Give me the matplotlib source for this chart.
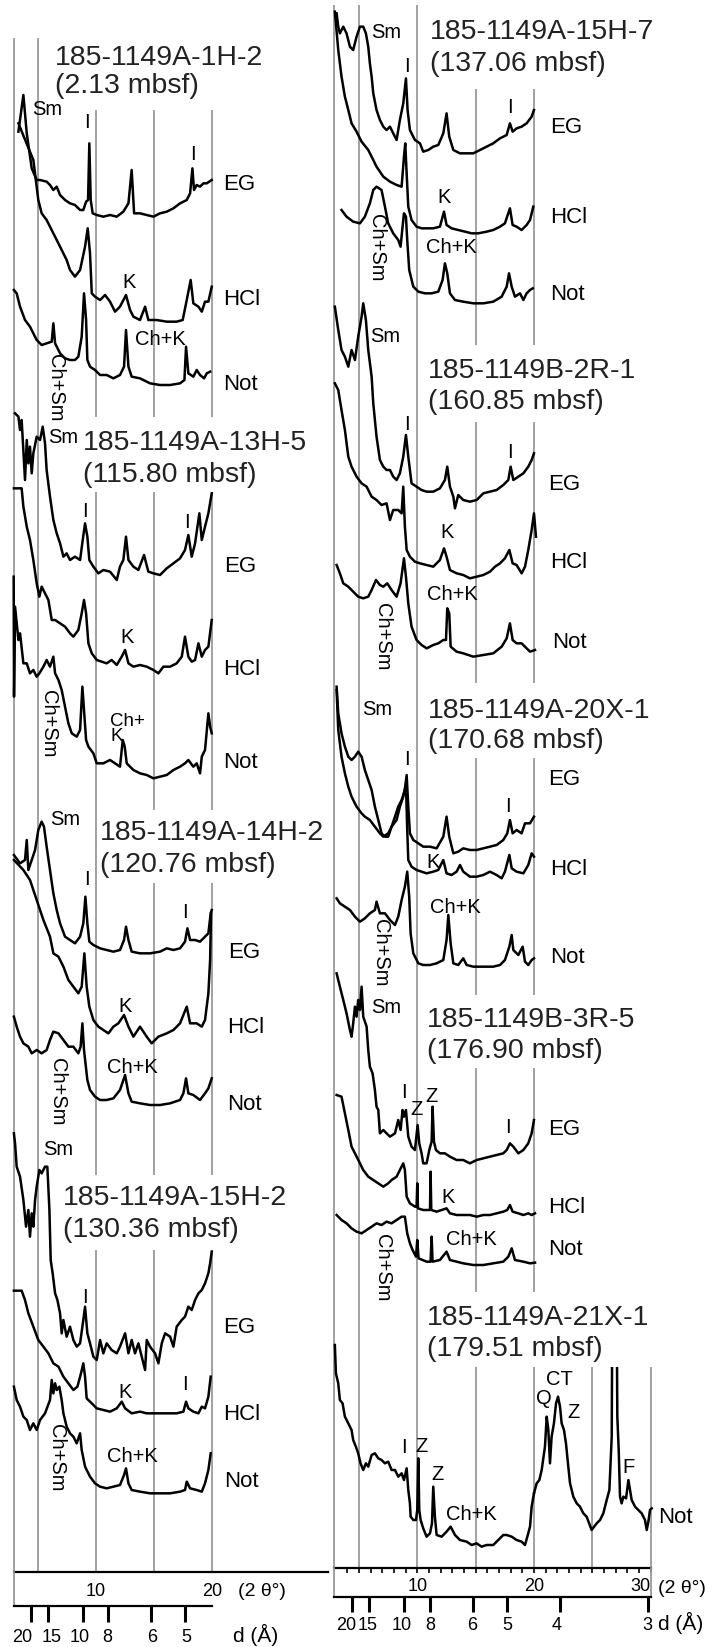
import numpy as np
import matplotlib
matplotlib.use("Agg")
import matplotlib.pyplot as plt
from matplotlib.patches import Rectangle

plt.rcParams['font.family'] = ['Liberation Sans', 'DejaVu Sans']

W, H = 716, 1647

# XRD traces: (2-theta in degrees, intensity in arbitrary counts)
# left column
a1h2_eg = [(3.29,255),(3.72,365),(4.01,250),(4.44,145),(4.87,110),(5.16,110),(5.73,105),(6.02,95),(6.31,80),(6.60,90),(6.89,65),(7.32,50),(7.75,40),(8.18,35),(8.62,20),(8.90,20),(9.14,45),(9.31,50),(9.42,220),(9.54,50),(9.71,10),(10.06,5),(10.63,0),(11.21,5),(11.79,0),(12.36,15),(12.80,40),(13.08,140),(13.29,10),(13.80,10),(14.38,5),(14.96,0),(15.53,10),(16.11,15),(16.69,25),(17.26,40),(17.84,50),(18.13,70),(18.33,145),(18.47,80),(18.70,95),(18.99,90),(19.28,100),(19.57,100),(20.0,110)]
a1h2_hcl = [(3.29,595),(4.58,485),(5.01,365),(5.30,325),(5.73,305),(6.31,265),(6.89,225),(7.46,185),(7.75,155),(8.18,135),(8.62,155),(9.05,225),(9.28,280),(9.48,205),(9.63,85),(9.91,75),(10.35,65),(10.78,80),(11.21,60),(11.64,30),(12.07,45),(12.59,80),(12.94,35),(13.23,15),(13.80,5),(14.24,45),(14.52,5),(15.24,5),(16.11,0),(16.97,0),(17.49,5),(17.84,65),(18.18,125),(18.41,55),(18.85,45),(19.14,30),(19.42,60),(19.71,60),(20.0,105)]
a1h2_not = [(2.9,285),(3.14,275),(3.43,235),(3.86,195),(4.29,175),(4.58,155),(4.87,135),(5.30,120),(5.73,125),(6.17,130),(6.31,185),(6.46,125),(6.89,95),(7.32,80),(7.75,75),(8.18,75),(8.47,85),(8.76,145),(8.96,275),(9.14,195),(9.25,75),(9.48,55),(9.91,45),(10.35,30),(10.92,30),(11.50,20),(12.07,30),(12.42,55),(12.59,165),(12.80,55),(13.08,25),(13.80,20),(14.67,5),(15.53,0),(16.40,0),(17.26,5),(17.64,15),(17.78,115),(17.98,35),(18.41,25),(18.70,45),(18.99,30),(19.34,20),(19.57,35),(19.86,40)]

a13h5_eg = [(3.0,500),(3.29,490),(3.43,450),(3.57,480),(3.86,300),(4.01,420),(4.15,350),(4.29,400),(4.44,320),(4.58,380),(4.87,430),(5.16,420),(5.39,460),(5.59,410),(5.73,330),(6.02,250),(6.31,180),(6.60,140),(6.89,110),(7.18,70),(7.46,80),(7.75,60),(8.18,70),(8.62,60),(8.85,120),(9.05,170),(9.25,130),(9.42,60),(9.77,40),(10.20,20),(10.63,30),(11.21,25),(11.79,0),(12.07,40),(12.36,60),(12.59,130),(12.80,60),(13.23,40),(13.66,30),(14.15,75),(14.52,25),(14.96,20),(15.53,15),(16.11,35),(16.69,50),(17.26,65),(17.69,90),(17.98,135),(18.27,70),(18.56,110),(18.93,200),(19.14,120),(19.42,160),(19.71,200),(20.0,260)]
a13h5_hcl = [(2.9,555),(3.57,555),(3.72,500),(4.01,440),(4.29,400),(4.58,340),(4.87,270),(5.10,230),(5.30,260),(5.59,240),(5.88,220),(6.17,160),(6.46,160),(6.89,150),(7.32,140),(7.75,120),(8.04,110),(8.47,130),(8.76,180),(8.96,220),(9.14,180),(9.34,90),(9.63,60),(10.06,40),(10.49,35),(10.92,30),(11.35,40),(11.79,25),(12.22,50),(12.51,70),(12.80,30),(13.23,20),(13.80,25),(14.38,20),(14.96,10),(15.39,0),(15.82,20),(16.40,20),(16.97,30),(17.41,50),(17.69,110),(17.98,50),(18.27,35),(18.56,40),(18.85,90),(19.14,50),(19.42,70),(19.71,80),(20.0,160)]
a13h5_not = [(2.88,605),(2.91,245),(3.0,515),(3.29,415),(3.43,435),(3.72,345),(4.01,345),(4.29,315),(4.58,325),(4.87,305),(5.10,315),(5.45,335),(5.73,355),(6.02,335),(6.31,365),(6.46,315),(6.75,295),(7.03,265),(7.32,215),(7.61,165),(7.90,135),(8.33,125),(8.62,145),(8.82,275),(8.96,205),(9.14,115),(9.34,95),(9.77,75),(10.06,45),(10.63,45),(11.21,55),(11.64,45),(12.07,35),(12.31,115),(12.48,95),(12.65,45),(13.23,25),(13.80,15),(14.38,10),(14.96,0),(15.53,5),(16.11,10),(16.69,25),(17.26,35),(17.69,45),(17.98,55),(18.41,35),(18.70,45),(18.99,15),(19.14,65),(19.42,85),(19.71,195),(19.86,155),(20.0,135)]

a14h2_eg = [(2.9,295),(3.43,270),(3.86,280),(4.01,340),(4.15,250),(4.44,280),(4.73,310),(5.01,370),(5.30,395),(5.50,380),(5.73,320),(6.02,250),(6.31,180),(6.60,130),(6.89,90),(7.32,50),(7.75,40),(8.18,30),(8.62,50),(8.90,90),(9.08,170),(9.25,90),(9.42,35),(9.77,25),(10.35,15),(10.92,10),(11.50,5),(12.07,10),(12.42,40),(12.59,80),(12.80,40),(13.08,5),(13.80,0),(14.67,0),(15.53,5),(16.11,15),(16.69,10),(17.26,15),(17.69,35),(17.90,75),(18.13,40),(18.56,40),(18.99,35),(19.42,50),(19.71,60),(19.91,120),(20.0,130)]
a14h2_hcl = [(2.9,550),(3.72,520),(4.29,490),(4.87,430),(5.45,370),(6.02,320),(6.31,270),(6.75,260),(7.18,230),(7.61,190),(8.04,170),(8.47,150),(8.76,170),(8.99,270),(9.19,170),(9.42,110),(9.77,70),(10.20,50),(10.63,40),(11.07,30),(11.50,50),(11.93,60),(12.42,85),(12.80,50),(13.23,20),(13.80,50),(14.38,20),(14.81,0),(15.39,20),(16.11,30),(16.69,40),(17.26,60),(17.84,110),(18.13,60),(18.70,60),(19.14,50),(19.42,70),(19.71,150),(19.86,250),(19.94,390)]
a14h2_not = [(2.9,265),(3.14,235),(3.43,205),(3.72,185),(4.15,175),(4.44,155),(4.87,165),(5.30,155),(5.73,165),(6.02,195),(6.31,220),(6.75,215),(7.18,195),(7.61,175),(8.04,175),(8.47,155),(8.67,175),(8.82,245),(8.96,165),(9.25,75),(9.48,45),(9.91,25),(10.35,15),(10.92,15),(11.50,20),(12.07,45),(12.51,90),(12.80,35),(13.08,10),(13.80,5),(14.67,0),(15.53,0),(16.40,5),(17.26,15),(17.55,35),(17.78,80),(17.98,35),(18.41,30),(18.99,15),(19.42,35),(19.71,50),(20.0,80)]

a15h2_eg = [(2.9,710),(3.0,680),(3.14,610),(3.43,580),(3.72,510),(3.95,430),(4.15,480),(4.29,400),(4.44,470),(4.58,430),(4.73,510),(4.87,550),(5.10,600),(5.30,590),(5.59,610),(5.79,610),(5.97,480),(6.08,330),(6.25,290),(6.46,230),(6.66,210),(6.89,170),(7.03,110),(7.18,150),(7.46,100),(7.75,130),(8.04,90),(8.33,70),(8.62,80),(8.90,150),(9.05,190),(9.25,110),(9.48,80),(9.77,40),(10.06,30),(10.35,90),(10.63,50),(10.92,80),(11.35,60),(11.79,50),(12.07,70),(12.51,110),(12.80,50),(13.08,90),(13.37,50),(13.66,80),(13.95,40),(14.24,0),(14.38,90),(14.67,70),(15.10,50),(15.39,20),(15.68,80),(15.97,110),(16.40,100),(16.69,70),(16.97,130),(17.41,150),(17.69,160),(17.98,190),(18.27,180),(18.56,210),(18.85,230),(19.14,240),(19.42,260),(19.71,290),(19.86,320),(20.0,355)]
a15h2_hcl = [(2.9,368),(3.57,368),(3.86,340),(4.15,300),(4.58,260),(5.01,220),(5.45,200),(5.88,180),(6.31,150),(6.75,140),(7.18,110),(7.61,90),(8.04,70),(8.39,80),(8.70,120),(8.90,150),(9.05,110),(9.19,45),(9.63,30),(10.06,15),(10.63,10),(11.21,5),(11.79,15),(12.22,35),(12.51,15),(13.08,0),(13.80,5),(14.38,0),(15.24,0),(16.11,0),(16.97,0),(17.55,5),(17.78,35),(17.98,15),(18.41,5),(18.85,0),(19.14,20),(19.42,15),(19.71,50),(19.91,110)]
a15h2_not = [(2.9,320),(3.14,280),(3.43,260),(3.72,230),(4.01,220),(4.29,190),(4.58,210),(4.87,190),(5.16,220),(5.59,240),(6.02,280),(6.17,340),(6.31,300),(6.46,330),(6.60,310),(6.83,320),(7.03,280),(7.18,240),(7.46,200),(7.75,180),(8.04,170),(8.33,150),(8.62,180),(8.76,130),(9.05,80),(9.48,50),(9.91,30),(10.35,20),(10.92,15),(11.50,20),(12.07,25),(12.42,55),(12.59,75),(12.80,30),(13.08,10),(13.80,5),(14.67,0),(15.53,0),(16.40,0),(17.26,5),(17.69,10),(17.84,35),(18.13,15),(18.70,10),(19.14,5),(19.42,30),(19.71,70),(19.91,120)]

# right column
a15h7_eg = [(3.09,420),(3.23,380),(3.37,360),(3.66,380),(3.94,360),(4.23,320),(4.51,310),(4.80,350),(5.09,380),(5.37,380),(5.60,360),(5.80,320),(5.94,270),(6.09,230),(6.23,180),(6.51,130),(6.80,100),(7.09,80),(7.37,70),(7.66,80),(7.94,60),(8.23,40),(8.51,100),(8.80,150),(9.03,225),(9.17,130),(9.37,70),(9.80,40),(10.23,30),(10.51,5),(10.94,10),(11.37,20),(11.80,25),(12.23,60),(12.51,120),(12.74,50),(13.09,10),(13.66,0),(14.23,0),(14.80,0),(15.37,10),(15.94,20),(16.51,30),(17.09,45),(17.66,55),(17.94,90),(18.17,65),(18.51,75),(18.94,80),(19.37,90),(19.80,110),(20.0,130)]
a15h7_hcl = [(2.94,665),(3.23,550),(3.51,470),(3.80,410),(4.09,370),(4.37,330),(4.80,305),(5.23,275),(5.80,250),(6.23,220),(6.51,200),(7.09,170),(7.66,155),(8.23,145),(8.66,140),(8.86,230),(8.97,270),(9.09,180),(9.23,80),(9.51,40),(9.94,20),(10.37,15),(10.80,15),(11.37,15),(11.94,20),(12.29,65),(12.51,25),(12.94,15),(13.51,10),(14.09,5),(14.66,0),(15.23,0),(15.94,5),(16.51,10),(17.09,20),(17.51,30),(17.94,75),(18.17,25),(18.51,20),(18.94,10),(19.37,25),(19.66,40),(19.94,80)]
a15h7_not = [(3.51,280),(3.94,260),(4.51,245),(5.09,240),(5.51,260),(5.94,300),(6.23,340),(6.51,350),(6.94,340),(7.23,290),(7.51,240),(7.94,210),(8.37,190),(8.57,170),(8.74,230),(8.86,270),(9.03,260),(9.14,190),(9.31,100),(9.66,50),(10.09,35),(10.66,30),(11.23,30),(11.80,35),(12.17,70),(12.37,120),(12.57,90),(12.80,30),(13.23,10),(13.94,5),(14.80,0),(15.66,0),(16.51,5),(17.23,20),(17.66,50),(17.86,90),(18.09,50),(18.37,20),(18.80,30),(19.09,10),(19.37,30),(19.66,40),(19.89,45)]

b2r1_eg = [(2.94,605),(3.23,535),(3.51,475),(3.80,455),(4.09,425),(4.37,475),(4.66,445),(4.94,515),(5.23,575),(5.37,615),(5.60,565),(5.80,475),(6.09,395),(6.23,315),(6.51,215),(6.80,145),(7.09,125),(7.37,115),(7.66,115),(7.94,95),(8.23,85),(8.51,105),(8.80,155),(9.03,220),(9.23,155),(9.51,75),(9.94,65),(10.37,55),(10.80,50),(11.37,50),(11.94,60),(12.37,85),(12.57,125),(12.80,65),(13.09,35),(13.23,0),(13.51,40),(13.94,25),(14.51,20),(15.09,25),(15.66,45),(16.23,50),(16.80,55),(17.37,70),(17.80,85),(18.00,125),(18.23,85),(18.66,95),(19.09,105),(19.51,125),(19.80,145),(20.0,165)]
b2r1_hcl = [(2.94,585),(3.23,565),(3.51,505),(3.80,445),(4.09,365),(4.37,335),(4.80,305),(5.23,285),(5.66,275),(6.09,245),(6.51,235),(6.94,220),(7.37,225),(7.66,175),(7.94,205),(8.37,205),(8.66,195),(8.80,275),(8.94,155),(9.09,85),(9.37,65),(9.80,50),(10.23,45),(10.80,40),(11.37,35),(11.94,55),(12.29,90),(12.51,65),(12.80,25),(13.37,15),(13.94,10),(14.51,0),(15.09,5),(15.66,10),(16.23,20),(16.66,35),(17.09,45),(17.51,60),(17.89,85),(18.17,45),(18.51,40),(18.94,15),(19.23,35),(19.51,85),(19.80,145),(20.0,195),(20.17,125)]
b2r1_not = [(3.09,275),(3.37,250),(3.66,220),(4.09,210),(4.51,195),(4.94,180),(5.37,175),(5.80,180),(6.09,200),(6.46,230),(6.80,215),(7.09,210),(7.43,220),(7.80,200),(8.23,180),(8.57,220),(8.86,295),(9.03,240),(9.23,160),(9.51,90),(9.94,50),(10.37,35),(10.80,25),(11.37,35),(11.80,40),(12.23,50),(12.46,50),(12.57,145),(12.74,130),(12.86,30),(13.37,15),(13.94,10),(14.80,0),(15.66,5),(16.51,10),(17.23,30),(17.66,55),(17.94,100),(18.17,50),(18.51,40),(18.94,40),(19.37,25),(19.66,15),(20.09,20)]

a20x1_eg = [(3.09,500),(3.23,420),(3.51,360),(3.80,320),(4.09,290),(4.37,280),(4.66,290),(4.94,305),(5.23,290),(5.51,250),(5.80,220),(6.09,190),(6.37,140),(6.66,100),(6.94,60),(7.23,50),(7.51,50),(7.80,80),(8.09,110),(8.37,140),(8.66,160),(8.94,190),(9.09,235),(9.23,140),(9.37,60),(9.66,40),(10.09,30),(10.51,20),(11.09,20),(11.66,15),(12.23,50),(12.51,110),(12.74,50),(13.09,0),(13.51,5),(13.94,15),(14.51,10),(15.09,10),(15.66,15),(16.23,20),(16.80,25),(17.37,40),(17.71,60),(17.94,100),(18.17,60),(18.51,70),(18.94,60),(19.23,90),(19.66,90),(20.0,110)]
a20x1_hcl = [(3.09,565),(3.23,445),(3.51,365),(3.80,315),(4.09,275),(4.37,245),(4.80,215),(5.23,195),(5.51,185),(5.94,175),(6.37,155),(6.80,135),(7.09,125),(7.51,135),(7.80,155),(8.23,175),(8.51,215),(8.80,245),(9.03,285),(9.14,145),(9.23,55),(9.51,35),(9.94,25),(10.37,20),(10.80,15),(11.37,20),(11.80,25),(12.23,55),(12.51,15),(12.94,10),(13.37,20),(13.66,40),(13.94,20),(14.51,5),(15.09,5),(15.66,10),(16.23,20),(16.80,10),(17.23,0),(17.51,20),(17.89,70),(18.09,30),(18.51,20),(19.09,15),(19.51,40),(19.80,75),(20.0,65)]
a20x1_not = [(3.09,205),(3.37,190),(3.80,180),(4.23,170),(4.66,150),(5.09,135),(5.51,145),(5.94,160),(6.37,170),(6.51,195),(6.80,160),(7.23,160),(7.66,140),(8.09,125),(8.37,150),(8.66,200),(8.94,240),(9.14,285),(9.31,210),(9.43,100),(9.66,40),(10.09,10),(10.51,5),(11.09,5),(11.66,10),(12.23,20),(12.51,80),(12.66,155),(12.86,70),(13.09,10),(13.51,5),(13.94,25),(14.23,5),(14.80,0),(15.66,0),(16.51,0),(17.09,5),(17.51,20),(17.89,60),(18.09,95),(18.23,50),(18.66,35),(19.03,60),(19.23,15),(19.51,5),(19.80,20),(20.0,25)]

b3r5_eg = [(3.09,570),(3.37,530),(3.66,490),(3.94,450),(4.23,400),(4.37,380),(4.51,420),(4.66,470),(4.80,440),(4.94,490),(5.09,460),(5.23,530),(5.37,440),(5.66,410),(5.80,340),(5.94,290),(6.17,270),(6.37,220),(6.51,170),(6.66,160),(6.80,90),(7.09,100),(7.37,90),(7.66,80),(8.09,90),(8.37,130),(8.57,100),(8.74,160),(8.86,140),(9.03,160),(9.23,80),(9.51,50),(9.80,40),(10.03,115),(10.17,60),(10.37,30),(10.51,0),(10.80,0),(11.03,40),(11.23,65),(11.31,170),(11.43,65),(11.60,40),(11.94,30),(12.37,30),(12.80,20),(13.37,10),(13.94,10),(14.51,0),(15.09,10),(15.66,15),(16.23,20),(16.80,25),(17.37,30),(17.66,40),(17.94,60),(18.23,50),(18.66,30),(19.09,40),(19.51,60),(19.80,90),(20.0,130)]
b3r5_hcl = [(3.09,365),(3.51,360),(3.80,310),(4.09,260),(4.37,210),(4.66,190),(5.09,160),(5.37,140),(5.80,120),(6.23,110),(6.66,100),(7.09,90),(7.51,100),(7.80,110),(8.23,120),(8.51,140),(8.80,160),(8.94,140),(9.09,60),(9.37,40),(9.80,30),(9.94,30),(10.0,100),(10.06,25),(10.51,20),(10.94,20),(11.09,20),(11.14,135),(11.20,20),(11.66,15),(12.09,20),(12.51,25),(12.80,10),(13.37,5),(13.94,5),(14.51,5),(15.09,0),(15.66,5),(16.23,5),(16.80,10),(17.37,15),(17.71,20),(17.94,35),(18.17,15),(18.66,10),(19.09,5),(19.51,10),(19.80,5),(20.09,10)]
b3r5_not = [(3.09,150),(3.51,135),(3.94,125),(4.37,110),(4.80,100),(5.23,95),(5.66,105),(6.09,115),(6.51,125),(6.94,120),(7.37,130),(7.80,125),(8.23,135),(8.66,145),(8.94,145),(9.14,95),(9.37,65),(9.60,45),(9.89,25),(10.0,75),(10.11,20),(10.80,10),(11.14,10),(11.23,85),(11.31,10),(11.94,15),(12.51,40),(12.80,15),(13.37,10),(13.94,5),(14.80,0),(15.66,0),(16.51,5),(17.37,10),(17.80,25),(18.09,50),(18.37,15),(19.09,10),(19.66,5),(20.09,7)]

a21x1_not = [(2.94,605),(3.03,520),(3.23,490),(3.37,440),(3.60,430),(3.80,390),(4.09,370),(4.37,350),(4.51,320),(4.74,300),(4.94,280),(5.14,250),(5.37,230),(5.60,250),(5.80,240),(6.09,275),(6.37,280),(6.66,265),(6.94,260),(7.23,250),(7.51,255),(7.80,230),(8.09,230),(8.37,210),(8.66,220),(8.86,200),(9.09,235),(9.23,170),(9.37,130),(9.43,90),(9.66,80),(9.89,80),(10.0,110),(10.09,265),(10.17,110),(10.29,80),(10.51,55),(10.80,30),(11.09,40),(11.26,70),(11.37,180),(11.51,90),(11.66,35),(12.09,30),(12.51,45),(12.86,60),(13.23,35),(13.66,20),(14.23,15),(14.66,5),(15.09,10),(15.51,0),(15.94,5),(16.51,5),(16.94,20),(17.37,35),(17.66,35),(18.09,30),(18.51,20),(18.94,15),(19.23,5),(19.43,30),(19.66,60),(19.80,120),(20.0,160),(20.23,190),(20.46,200),(20.66,230),(20.94,300),(21.09,390),(21.23,350),(21.37,250),(21.51,330),(21.71,370),(21.89,430),(22.06,450),(22.23,420),(22.37,370),(22.57,350),(22.74,310),(22.94,240),(23.09,190),(23.37,150),(23.66,130),(23.94,120),(24.23,100),(24.51,90),(24.94,50),(25.37,70),(25.66,80),(25.94,100),(26.23,140),(26.46,170),(26.66,330),(26.80,1400),(26.97,1400),(27.14,390),(27.26,290),(27.37,150),(27.51,130),(27.66,150),(27.89,145),(28.09,200),(28.23,170),(28.37,140),(28.66,120),(28.94,110),(29.23,100),(29.51,80),(29.66,50),(29.80,75),(29.94,110),(30.09,115)]

# d-spacing scale (Angstrom)
d_left = [20, 15, 10, 8, 6, 5]
d_right = [20, 15, 10, 8, 6, 5, 4, 3]

GRID = '#9a9a9a'
LW = 1.8
fig = plt.figure(figsize=(W / 100, H / 100), dpi=100)


def px_axes(x0, y_top, x1, y_bot):
    return fig.add_axes([x0 / W, 1 - y_bot / H, (x1 - x0) / W, (y_bot - y_top) / H])


def bragg(d, lam=1.5406):
    return 2 * np.degrees(np.arcsin(lam / (2 * d)))


axL = px_axes(13.9, 38, 328, 1572)
axL.set_xlim(2.9, 30.05)
axL.set_ylim(0, 3 * (1572 - 38))
axR = px_axes(334.4, 5, 650.7, 1568)
axR.set_xlim(2.9, 30.0)
axR.set_ylim(0, 3 * (1568 - 5))

for ax in (axL, axR):
    ax.patch.set_visible(False)
    for s in ('top', 'left', 'right'):
        ax.spines[s].set_visible(False)
    ax.spines['bottom'].set_linewidth(1.6)
    ax.set_yticks([])

# vertical reference lines, broken where the sample titles sit
grid_left = {2.9: [(0, 4602)], 5: [(0, 4602)],
             10: [(3465, 4386), (1191, 3240), (0, 966)],
             15: [(3465, 4386), (2286, 3240), (1191, 2067), (0, 966)],
             20: [(3465, 4386), (2286, 3240), (1191, 2067), (0, 966)]}
top21 = 3 * (1568 - 1367)
grid_right = {2.9: [(0, 4689)], 5: [(0, 4689)], 10: [(0, 4689)],
              15: [(3669, 4437), (2655, 3438), (1719, 2430), (828, 1500), (0, top21)],
              20: [(3669, 4437), (2655, 3438), (1719, 2430), (828, 1500), (0, top21)],
              25: [(0, top21)], 30: [(0, top21)]}
for ax, g in ((axL, grid_left), (axR, grid_right)):
    for x, segs in g.items():
        for lo, hi in segs:
            ax.vlines(x, lo, hi, color=GRID, lw=1.3, zorder=1, clip_on=False)


def trace(ax, data, offset):
    t, c = np.array(data, dtype=float).T
    ax.plot(t, c + offset, color='black', lw=LW, zorder=3, clip_on=False)


stacks = [
    (axL, [(a1h2_eg, 4066), (a1h2_hcl, 3751), (a1h2_not, 3561)]),
    (axL, [(a13h5_eg, 2976), (a13h5_hcl, 2696), (a13h5_not, 2381)]),
    (axL, [(a14h2_eg, 1856), (a14h2_hcl, 1586), (a14h2_not, 1401)]),
    (axL, [(a15h2_eg, 606), (a15h2_hcl, 476), (a15h2_not, 236)]),
    (axR, [(a15h7_eg, 4244), (a15h7_hcl, 4004), (a15h7_not, 3794)]),
    (axR, [(b2r1_eg, 3179), (b2r1_hcl, 2969), (b2r1_not, 2734)]),
    (axR, [(a20x1_eg, 2144), (a20x1_hcl, 2069), (a20x1_not, 1804)]),
    (axR, [(b3r5_eg, 1214), (b3r5_hcl, 1054), (b3r5_not, 909)]),
]
for ax, traces in stacks:
    for data, off in traces:
        trace(ax, data, off)

# last sample: the quartz peak runs off the top of its panel
t, c = np.array(a21x1_not, dtype=float).T
lo = t <= 20.0
axR.plot(t[lo], c[lo] + 64, color='black', lw=LW, zorder=3, clip_on=False)
hi = t >= 20.0
ln, = axR.plot(t[hi], c[hi] + 64, color='black', lw=LW, zorder=3)
ln.set_clip_path(Rectangle((19.5, -50), 12, top21 + 50, transform=axR.transData))

# 2-theta axes
axL.set_xticks([10, 20])
axL.tick_params(axis='x', length=0, pad=8, labelsize=13)
axR.set_xticks([10, 20, 30])
axR.set_xticks(range(4, 30), minor=True)
axR.tick_params(axis='x', which='both', length=3.5, width=1.2, pad=3.6, labelsize=13)
axR.get_xticklabels()[-1].set_horizontalalignment('right')

# d-spacing boxes
axdL = px_axes(13.9, 1572, 328, 1606)
axdR = px_axes(334.4, 1568, 650.7, 1597)
axdL.set_xlim(2.9, 30.05)
axdR.set_xlim(2.9, 30.0)
for ax, ds in ((axdL, d_left), (axdR, d_right)):
    ax.patch.set_visible(False)
    ax.spines['top'].set_visible(False)
    ax.spines['left'].set_color(GRID)
    ax.spines['left'].set_linewidth(1.3)
    ax.spines['right'].set_color(GRID)
    ax.spines['right'].set_linewidth(1.3)
    ax.spines['bottom'].set_linewidth(1.6)
    ax.set_yticks([])
    ax.set_xticks([bragg(d) for d in ds])
    ax.set_xticklabels([])
axdL.spines['right'].set_visible(False)
axdL.spines['bottom'].set_bounds(2.9, 20.0)
axdL.tick_params(axis='x', length=11.5, width=2.2)
axdR.tick_params(axis='x', length=10.8, width=2.2)


def txt(x, y, s, size=14.5, ha='center', **kw):
    fig.text(x / W, 1 - y / H, s, fontsize=size, ha=ha, va='baseline', **kw)


# d labels, nudged apart where the ticks crowd together
for x, d in zip([22, 52, 80, 107, 152, 186], d_left):
    txt(x, 1642, str(d), size=13)
for x, d in zip([346, 368, 402, 430, 472, 507, 557, 647], d_right):
    txt(x, 1630, str(d), size=13)

titles = [(55, 65, '185-1149A-1H-2'), (55, 93, '(2.13 mbsf)'),
          (83, 450, '185-1149A-13H-5'), (83, 482, '(115.80 mbsf)'),
          (100, 840, '185-1149A-14H-2'), (100, 872, '(120.76 mbsf)'),
          (63, 1205, '185-1149A-15H-2'), (63, 1237, '(130.36 mbsf)'),
          (430, 39, '185-1149A-15H-7'), (430, 71, '(137.06 mbsf)'),
          (428, 378, '185-1149B-2R-1'), (428, 409, '(160.85 mbsf)'),
          (428, 718, '185-1149A-20X-1'), (428, 748, '(170.68 mbsf)'),
          (427, 1027, '185-1149B-3R-5'), (427, 1058, '(176.90 mbsf)'),
          (427, 1325, '185-1149A-21X-1'), (427, 1356, '(179.51 mbsf)')]
for x, y, s in titles:
    txt(x, y, s, size=20.5, ha='left', color='#222222')

treat = [(223, 190, 'EG'), (223, 305, 'HCl'), (223, 390, 'Not'),
         (224, 572, 'EG'), (223, 675, 'HCl'), (223, 768, 'Not'),
         (228, 958, 'EG'), (227, 1033, 'HCl'), (227, 1110, 'Not'),
         (223, 1333, 'EG'), (223, 1420, 'HCl'), (224, 1487, 'Not'),
         (550, 133, 'EG'), (550, 223, 'HCl'), (550, 300, 'Not'),
         (548, 490, 'EG'), (550, 568, 'HCl'), (552, 648, 'Not'),
         (548, 785, 'EG'), (550, 875, 'HCl'), (550, 963, 'Not'),
         (548, 1135, 'EG'), (548, 1213, 'HCl'), (548, 1255, 'Not'),
         (658, 1523, 'Not')]
for x, y, s in treat:
    txt(x, y, s, size=16, ha='left')

peaks = [(47, 115, 'Sm'), (87, 128, 'I'), (193, 160, 'I'), (129, 288, 'K'), (160, 345, 'Ch+K'),
         (63, 443, 'Sm'), (85, 517, 'I'), (187, 528, 'I'), (127, 643, 'K'),
         (65, 825, 'Sm'), (87, 885, 'I'), (185, 918, 'I'), (125, 1012, 'K'), (132, 1073, 'Ch+K'),
         (58, 1155, 'Sm'), (85, 1303, 'I'), (185, 1390, 'I'), (125, 1398, 'K'), (132, 1462, 'Ch+K'),
         (386, 38, 'Sm'), (407, 72, 'I'), (510, 113, 'I'), (444, 203, 'K'), (451, 253, 'Ch+K'),
         (385, 342, 'Sm'), (407, 430, 'I'), (510, 458, 'I'), (447, 538, 'K'), (452, 600, 'Ch+K'),
         (377, 715, 'Sm'), (407, 765, 'I'), (508, 812, 'I'), (433, 868, 'K'), (455, 913, 'Ch+K'),
         (386, 1013, 'Sm'), (404, 1098, 'I'), (417, 1115, 'Z'), (432, 1102, 'Z'), (508, 1133, 'I'),
         (448, 1203, 'K'), (471, 1245, 'Ch+K'),
         (404, 1453, 'I'), (421, 1452, 'Z'), (437, 1480, 'Z'), (471, 1520, 'Ch+K'),
         (544, 1404, 'Q'), (559, 1385, 'CT'), (573, 1418, 'Z'), (629, 1473, 'F')]
for x, y, s in peaks:
    txt(x, y, s)
# stacked "Ch+ / K" label of 13H-5
fig.text(110 / W, 1 - 713 / H, 'Ch+\nK', fontsize=13.5, ha='left', va='top',
         linespacing=0.82)

for x, y in [(55, 388), (48, 724), (57, 1092), (56, 1458),
             (377, 248), (382, 637), (381, 953), (383, 1268)]:
    fig.text(x / W, 1 - y / H, 'Ch+Sm', fontsize=14.5, rotation=270,
             ha='center', va='center')

txt(238, 1596, '(2 θ°)', size=14, ha='left')
txt(658, 1593, '(2 θ°)', size=14, ha='left')
txt(233, 1642, 'd (Å)', size=15, ha='left')
txt(658, 1630, 'd (Å)', size=15, ha='left')

fig.savefig('out.png', dpi=100)
